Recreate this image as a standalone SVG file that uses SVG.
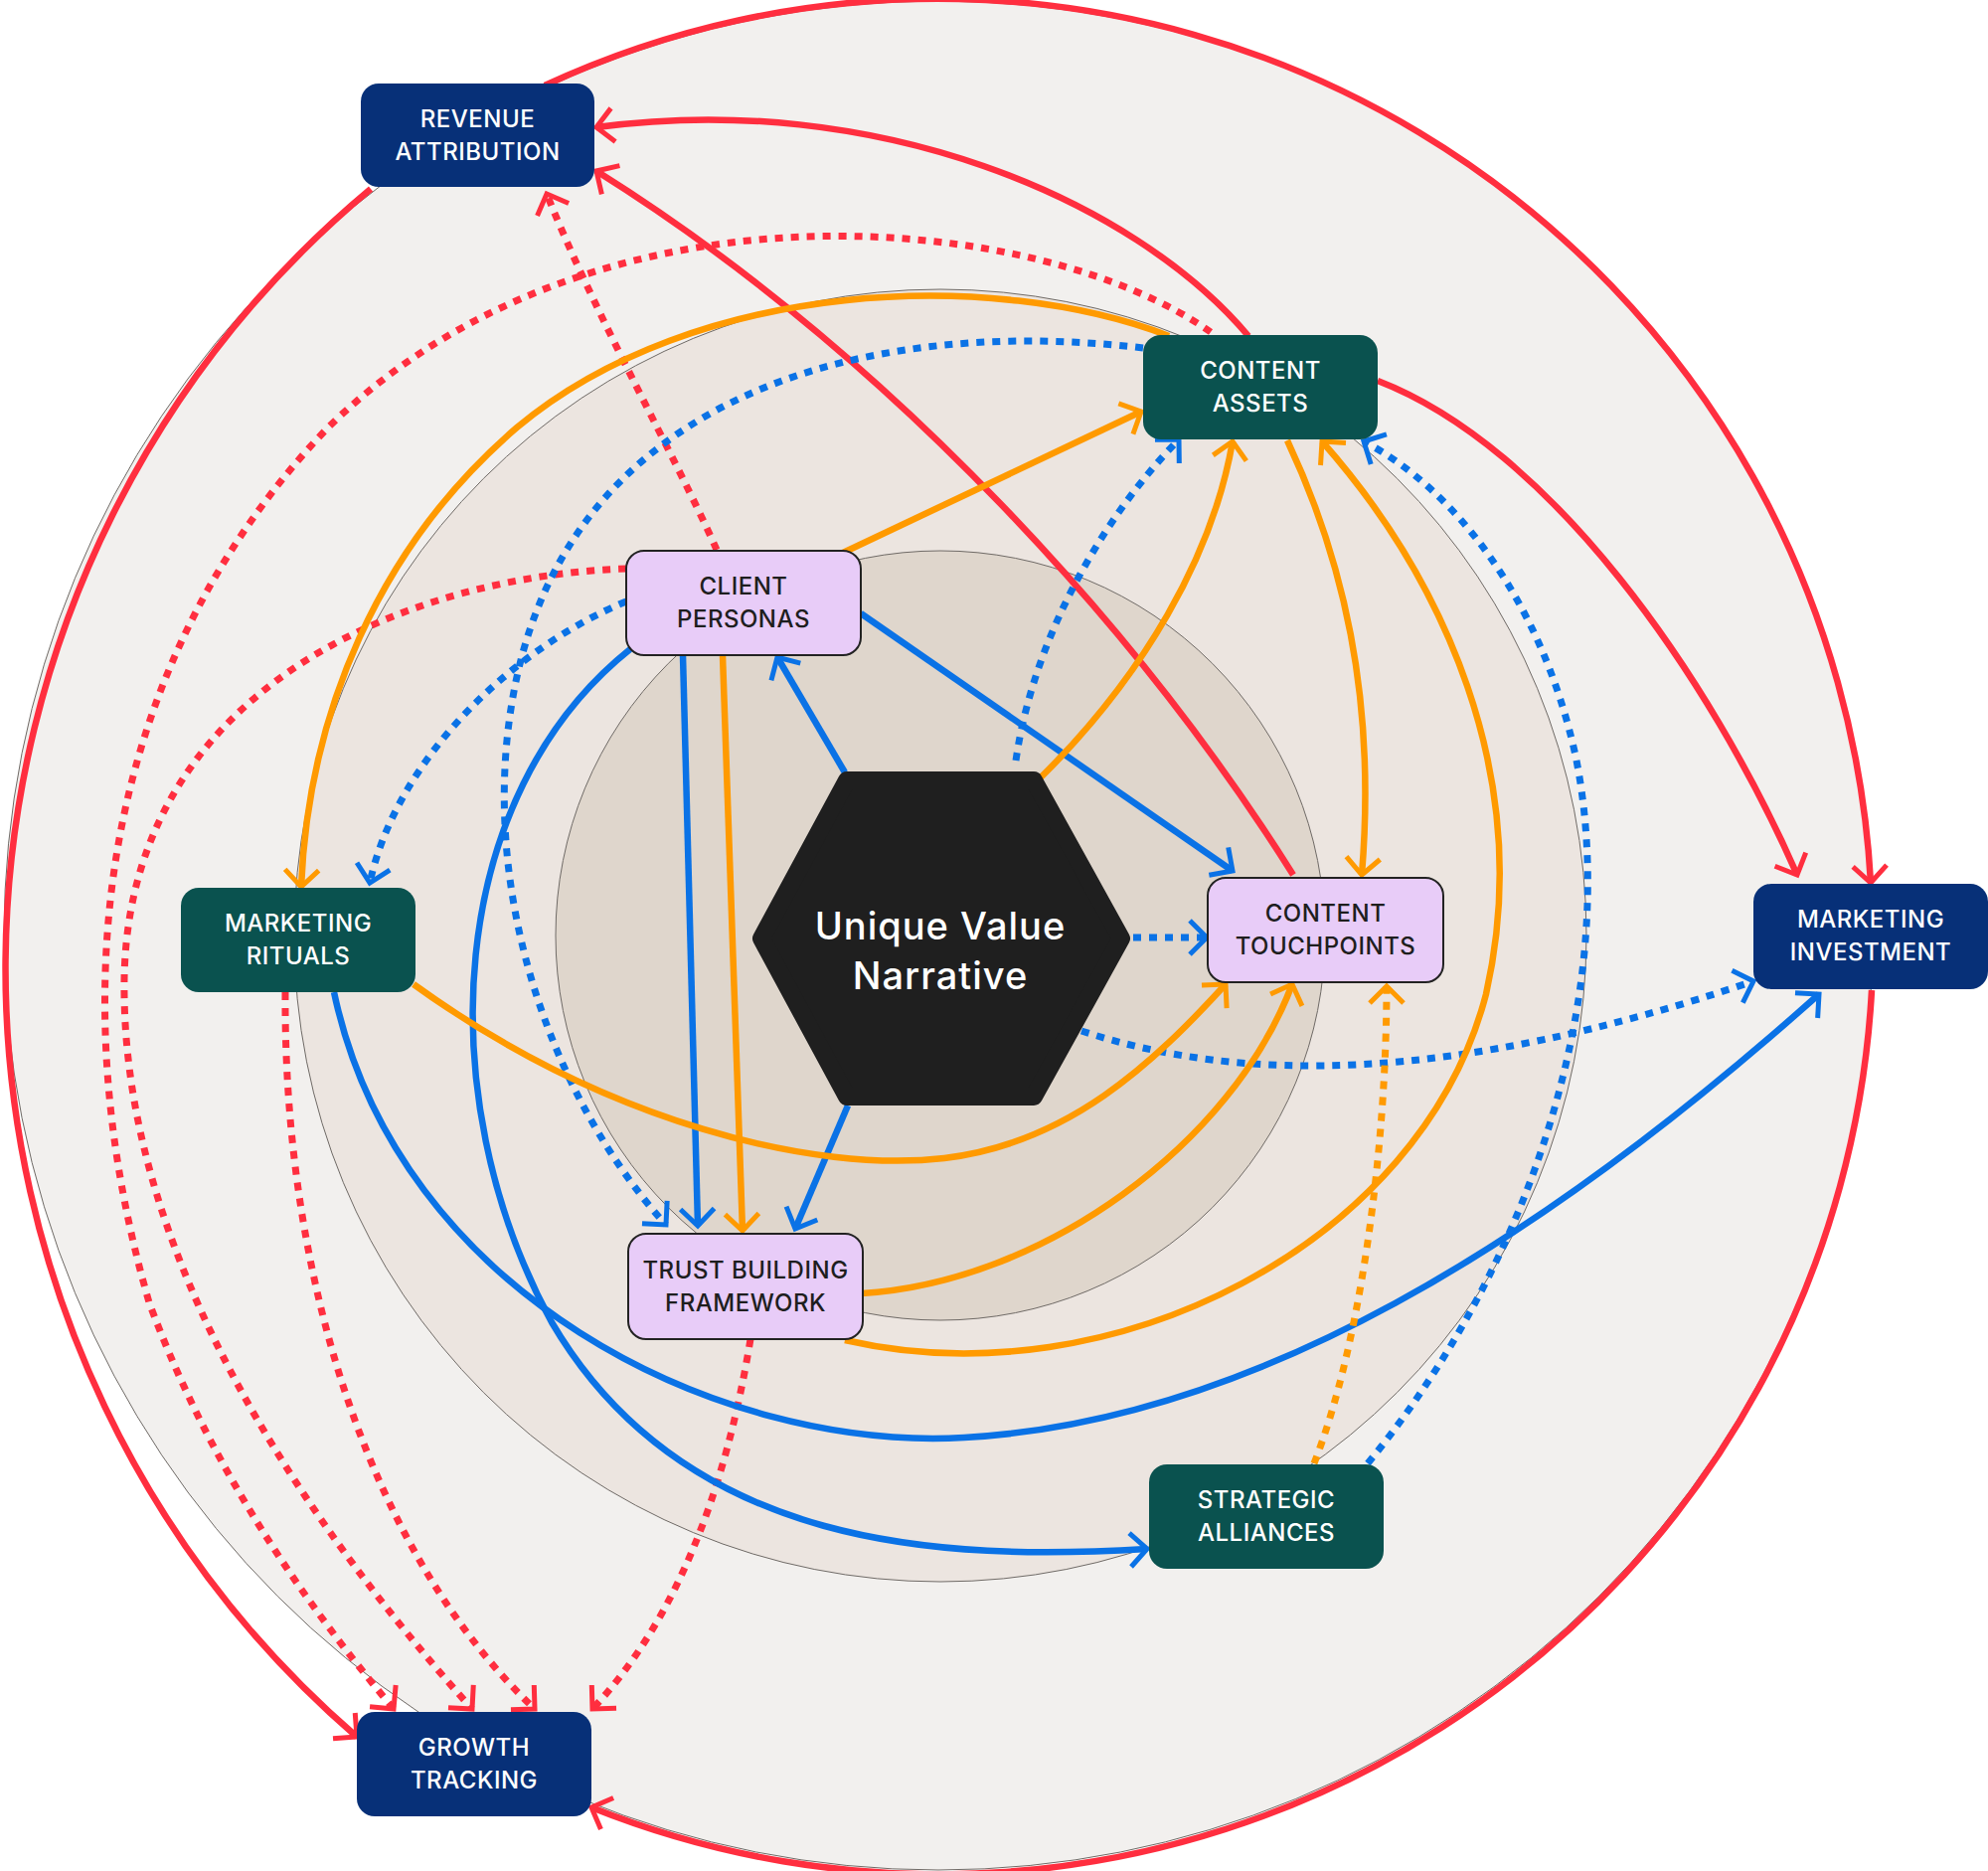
<svg xmlns="http://www.w3.org/2000/svg" width="2000" height="1882" viewBox="0 0 2000 1882">
<style>
.bg{stroke:#6f6a66;stroke-width:1}
.c{fill:none;stroke-width:6.5;stroke-linecap:butt}
.r{stroke:#FF2E3F}
.b{stroke:#0A72E6}
.o{stroke:#FF9A00}
.d{stroke-dasharray:8 8;stroke-width:7}
.navy{fill:#073078}
.green{fill:#0A524F}
.lav{fill:#E8CCF8;stroke:#222;stroke-width:2}
.tw{font-family:Inter,"Noto Sans",sans-serif;font-size:24px;font-weight:500;fill:#fff;text-anchor:middle;letter-spacing:0.5px}
.tk{font-family:Inter,"Noto Sans",sans-serif;font-size:24px;font-weight:500;fill:#1E1E1E;text-anchor:middle;letter-spacing:0.5px}
.th{font-family:Inter,"Noto Sans",sans-serif;font-size:38px;font-weight:500;fill:#fff;text-anchor:middle;letter-spacing:1px}
</style>
<defs>
<marker id="mr" viewBox="-22 -22 26 44" markerWidth="26" markerHeight="44" refX="0" refY="0" orient="auto" markerUnits="userSpaceOnUse"><path d="M-17,-17 L0,0 L-17,17" fill="none" stroke="#FF2E3F" stroke-width="5"/></marker>
<marker id="mb" viewBox="-22 -22 26 44" markerWidth="26" markerHeight="44" refX="0" refY="0" orient="auto" markerUnits="userSpaceOnUse"><path d="M-17,-17 L0,0 L-17,17" fill="none" stroke="#0A72E6" stroke-width="5"/></marker>
<marker id="mo" viewBox="-22 -22 26 44" markerWidth="26" markerHeight="44" refX="0" refY="0" orient="auto" markerUnits="userSpaceOnUse"><path d="M-17,-17 L0,0 L-17,17" fill="none" stroke="#FF9A00" stroke-width="5"/></marker>
</defs>
<rect width="2000" height="1882" fill="#fff"/>
<g id="background">
<circle class="bg" cx="944" cy="941" r="940" fill="#F2F0EE"/>
<circle class="bg" cx="946" cy="941" r="650" fill="#ECE5E0"/>
<circle class="bg" cx="946" cy="941" r="387" fill="#DFD6CC"/>
</g>
<g id="connectors">
<path class="c r" marker-end="url(#mr)" d="M373,190 A1021,1021 0 0 0 359,1747"/>
<path class="c r" marker-end="url(#mr)" d="M548,86 A940,940 0 0 1 1882,888"/>
<path class="c r" marker-end="url(#mr)" d="M1883,996 A940,940 0 0 1 595,1818"/>
<path class="c r" marker-end="url(#mr)" d="M1256,338 C1140,200 880,90 600,128"/>
<path class="c r" marker-end="url(#mr)" d="M1301,880 C1150,640 900,360 600,172"/>
<path class="c r" marker-end="url(#mr)" d="M1386,383 C1560,450 1720,680 1808,880"/>
<path class="c r d" marker-end="url(#mr)" d="M721,553 C680,460 600,320 550,195"/>
<path class="c r d" marker-end="url(#mr)" d="M1218,334 C1050,215 600,165 330,430 C100,670 60,1000 150,1310 C220,1500 330,1640 396,1719"/>
<path class="c r d" marker-end="url(#mr)" d="M630,572 C400,580 120,700 125,1000 C128,1300 350,1580 475,1719"/>
<path class="c r d" marker-end="url(#mr)" d="M287,998 C285,1300 380,1570 538,1719"/>
<path class="c r d" marker-end="url(#mr)" d="M755,1347 C730,1500 680,1630 596,1719"/>
<path class="c b" marker-end="url(#mb)" d="M850,777 L782,661"/>
<path class="c b" marker-end="url(#mb)" d="M853,1112 L800,1236"/>
<path class="c b" marker-end="url(#mb)" d="M866,617 L1240,876"/>
<path class="c b" marker-end="url(#mb)" d="M687,659 L702,1233"/>
<path class="c b" marker-end="url(#mb)" d="M634,653 C450,800 430,1100 555,1330 C690,1560 950,1570 1154,1558"/>
<path class="c b" marker-end="url(#mb)" d="M336,998 C400,1300 720,1460 970,1446 C1260,1430 1550,1250 1830,1000"/>
<path class="c b d" marker-end="url(#mb)" d="M1140,943 L1214,943"/>
<path class="c b d" marker-end="url(#mb)" d="M1088,1037 C1250,1090 1460,1090 1764,987"/>
<path class="c b d" marker-end="url(#mb)" d="M1022,765 C1040,640 1110,520 1186,442"/>
<path class="c b d" marker-end="url(#mb)" d="M1150,350 C900,320 600,380 525,660 C470,870 550,1100 670,1232"/>
<path class="c b d" marker-end="url(#mb)" d="M630,605 C520,650 400,760 372,888"/>
<path class="c b d" marker-end="url(#mb)" d="M1376,1472 C1550,1260 1630,980 1585,760 C1550,600 1460,490 1372,444"/>
<path class="c o" marker-end="url(#mo)" d="M848,556 L1148,414"/>
<path class="c o" marker-end="url(#mo)" d="M1176,338 C1000,270 700,280 520,430 C380,550 310,720 303,892"/>
<path class="c o" marker-end="url(#mo)" d="M1047,782 C1150,680 1220,560 1240,444"/>
<path class="c o" marker-end="url(#mo)" d="M1295,443 C1350,560 1385,700 1370,880"/>
<path class="c o" marker-end="url(#mo)" d="M850,1348 C1120,1410 1430,1250 1495,1000 C1545,780 1450,580 1330,444"/>
<path class="c o" marker-end="url(#mo)" d="M727,659 L747,1238"/>
<path class="c o" marker-end="url(#mo)" d="M416,990 C610,1130 820,1180 950,1165 C1075,1150 1160,1070 1233,990"/>
<path class="c o" marker-end="url(#mo)" d="M867,1301 C1050,1290 1240,1150 1300,990"/>
<path class="c o d" marker-end="url(#mo)" d="M1322,1472 C1370,1350 1395,1150 1395,992"/>
</g>
<g id="unique-value-narrative">
<polygon points="766,944 852,785 1040,785 1128,944 1040,1103 852,1103" fill="#1F1F1F" stroke="#1F1F1F" stroke-width="18" stroke-linejoin="round"/>
<text class="th" x="946" y="945">Unique Value</text>
<text class="th" x="946" y="995">Narrative</text>
</g>
<g id="revenue-attribution">
<rect class="navy" x="363" y="84" width="235" height="104" rx="18"/>
<text class="tw" x="480.5" y="128">REVENUE</text>
<text class="tw" x="480.5" y="161">ATTRIBUTION</text>
</g>
<g id="content-assets">
<rect class="green" x="1150" y="337" width="236" height="105" rx="18"/>
<text class="tw" x="1268" y="381">CONTENT</text>
<text class="tw" x="1268" y="414">ASSETS</text>
</g>
<g id="client-personas">
<rect class="lav" x="630" y="554" width="236" height="105" rx="18"/>
<text class="tk" x="748" y="598">CLIENT</text>
<text class="tk" x="748" y="631">PERSONAS</text>
</g>
<g id="content-touchpoints">
<rect class="lav" x="1215" y="883" width="237" height="105" rx="18"/>
<text class="tk" x="1333.5" y="927">CONTENT</text>
<text class="tk" x="1333.5" y="960">TOUCHPOINTS</text>
</g>
<g id="marketing-rituals">
<rect class="green" x="182" y="893" width="236" height="105" rx="18"/>
<text class="tw" x="300" y="937">MARKETING</text>
<text class="tw" x="300" y="970">RITUALS</text>
</g>
<g id="marketing-investment">
<rect class="navy" x="1764" y="889" width="236" height="106" rx="18"/>
<text class="tw" x="1882" y="933">MARKETING</text>
<text class="tw" x="1882" y="966">INVESTMENT</text>
</g>
<g id="trust-building-framework">
<rect class="lav" x="632" y="1241" width="236" height="106" rx="18"/>
<text class="tk" x="750" y="1286">TRUST BUILDING</text>
<text class="tk" x="750" y="1319">FRAMEWORK</text>
</g>
<g id="strategic-alliances">
<rect class="green" x="1156" y="1473" width="236" height="105" rx="18"/>
<text class="tw" x="1274" y="1517">STRATEGIC</text>
<text class="tw" x="1274" y="1550">ALLIANCES</text>
</g>
<g id="growth-tracking">
<rect class="navy" x="359" y="1722" width="236" height="105" rx="18"/>
<text class="tw" x="477" y="1766">GROWTH</text>
<text class="tw" x="477" y="1799">TRACKING</text>
</g>
</svg>
